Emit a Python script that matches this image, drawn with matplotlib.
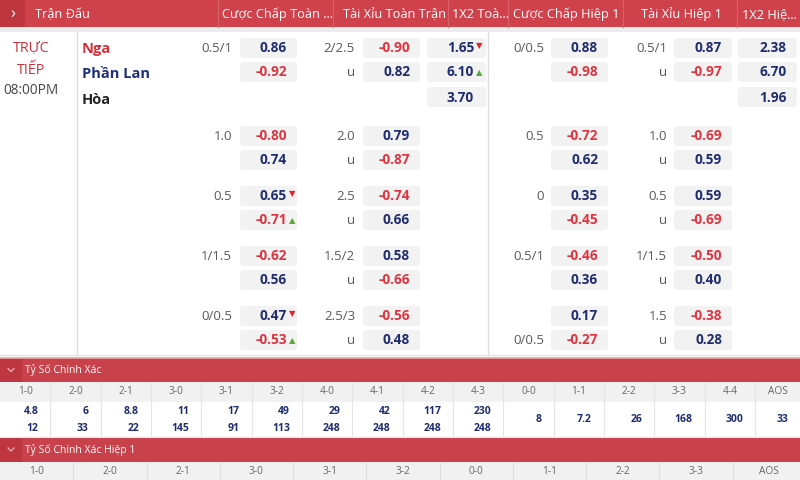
import matplotlib
matplotlib.use("Agg")
import matplotlib.pyplot as plt
from matplotlib.patches import FancyBboxPatch, Rectangle

plt.rcParams['font.family'] = ['Open Sans', 'DejaVu Sans']

# ---------------- data ----------------
header_titles = ["Trận Đấu", "Cược Chấp Toàn ...", "Tài Xỉu Toàn Trận", "1X2 Toà...",
                 "Cược Chấp Hiệp 1", "Tài Xỉu Hiệp 1", "1X2 Hiệ..."]
teams = ["Nga", "Phần Lan", "Hòa"]
status = ["TRỰC", "TIẾP", "08:00PM"]

hdp_ft_lines = ["0.5/1", "1.0", "0.5", "1/1.5", "0/0.5"]
hdp_ft_home = [0.86, -0.80, 0.65, -0.62, 0.47]
hdp_ft_away = [-0.92, 0.74, -0.71, 0.56, -0.53]

ou_ft_lines = ["2/2.5", "2.0", "2.5", "1.5/2", "2.5/3"]
ou_ft_over = [-0.90, 0.79, -0.74, 0.58, -0.56]
ou_ft_under = [0.82, -0.87, 0.66, -0.66, 0.48]

x12_ft = [1.65, 6.10, 3.70]

hdp_h1_lines = ["0/0.5", "0.5", "0", "0.5/1", "0/0.5"]
hdp_h1_line_row = [0, 0, 0, 0, 1]
hdp_h1_home = [0.88, -0.72, 0.35, -0.46, 0.17]
hdp_h1_away = [-0.98, 0.62, -0.45, 0.36, -0.27]

ou_h1_lines = ["0.5/1", "1.0", "0.5", "1/1.5", "1.5"]
ou_h1_over = [0.87, -0.69, 0.59, -0.50, -0.38]
ou_h1_under = [-0.97, 0.59, -0.69, 0.40, 0.28]

x12_h1 = [2.38, 6.70, 1.96]

# odds movement arrows: (column, group, row, direction)
arrows = [(2, 0, 0, "down"), (2, 0, 1, "up"),
          (0, 2, 0, "down"), (0, 2, 1, "up"),
          (0, 4, 0, "down"), (0, 4, 1, "up")]

cs_title = "Tỷ Số Chính Xác"
cs_labels = ["1-0", "2-0", "2-1", "3-0", "3-1", "3-2", "4-0", "4-1", "4-2", "4-3",
             "0-0", "1-1", "2-2", "3-3", "4-4", "AOS"]
cs_home = ["4.8", "6", "8.8", "11", "17", "49", "29", "42", "117", "230"]
cs_away = ["12", "33", "22", "145", "91", "113", "248", "248", "248", "248"]
cs_draw = ["8", "7.2", "26", "168", "300", "33"]

cs_h1_title = "Tỷ Số Chính Xác Hiệp 1"
cs_h1_labels = ["1-0", "2-0", "2-1", "3-0", "3-1", "3-2", "0-0", "1-1", "2-2", "3-3", "AOS"]

# ---------------- style ----------------
RED_HDR = "#cf424c"
RED_DARK = "#c0363f"
SEC_RED = "#c9414b"
VAL_RED = "#dc3540"
VAL_BLUE = "#1f2c6d"
BOX = "#f2f2f3"
GRID = "#dcdcdc"
LBL = "#5a5a5a"

fig = plt.figure(figsize=(8, 4.8), dpi=100)
ax = fig.add_axes([0, 0, 1, 1])
ax.set_xlim(0, 800)
ax.set_ylim(480, 0)
ax.axis("off")

# ---------------- header ----------------
ax.add_patch(Rectangle((0, 0), 800, 27, color=RED_HDR, lw=0))
ax.add_patch(Rectangle((0, 0), 25, 27, color=RED_DARK, lw=0))
ax.add_patch(Rectangle((0, 27), 800, 5, color="#ececec", lw=0))
ax.text(12.5, 13.5, "›", color="white", fontsize=12, ha="center", va="center")
hdr_x = [35, 222, 343, 452, 513, 641, 742]
for t, x in zip(header_titles, hdr_x):
    ax.text(x, 14.5, t, color="white", fontsize=9.2, ha="left", va="center")
for x in [218, 333, 448, 508, 623, 737]:
    ax.plot([x, x], [0, 27], color="#d8626a", lw=0.8)

# ---------------- body ----------------
ax.plot([77, 77], [32, 355], color=GRID, lw=1)
ax.plot([488, 488], [32, 355], color=GRID, lw=1)
ax.plot([0, 800], [355, 355], color="#e2e2e2", lw=1)
ax.plot([0, 800], [357.5, 357.5], color="#e8a79c", lw=1.2)

ax.text(31, 48, status[0], color="#c8323c", fontsize=10.3, ha="center", va="center")
ax.text(31, 70, status[1], color="#c8323c", fontsize=10.3, ha="center", va="center")
ax.text(31, 91, status[2], color="#444444", fontsize=9.8, ha="center", va="center")

team_colors = ["#d3303b", "#1e2f78", "#222222"]
team_y = [49, 74, 100]
for t, c, y in zip(teams, team_colors, team_y):
    ax.text(82, y, t, color=c, fontsize=10.5, fontweight="bold", ha="left", va="center")

group_rows = [[48, 72, 97], [136, 160], [196, 220], [256, 280], [316, 340]]

# column geometry: (box left, box right, value right, label right)
cols = {
    0: (240, 297, 287, 232),
    1: (363, 420, 410, 355),
    2: (427, 486, 474, None),
    3: (551, 608, 598, 544),
    4: (674, 732, 722, 667),
    5: (738, 797, 787, None),
}


def cell(col, y, val, label=None):
    bl, br, vr, lr = cols[col]
    ax.add_patch(FancyBboxPatch((bl, y - 10), br - bl, 20,
                                boxstyle="round,pad=0,rounding_size=3",
                                fc=BOX, ec="none"))
    color = VAL_RED if val < 0 else VAL_BLUE
    ax.text(vr, y + 0.5, f"{val:.2f}", color=color, fontsize=9.8, fontweight="bold",
            ha="right", va="center")
    if label is not None and lr is not None:
        ax.text(lr, y + 0.5, label, color=LBL, fontsize=9.5, ha="right", va="center")


for g in range(5):
    r = group_rows[g]
    cell(0, r[0], hdp_ft_home[g], hdp_ft_lines[g])
    cell(0, r[1], hdp_ft_away[g])
    cell(1, r[0], ou_ft_over[g], ou_ft_lines[g])
    cell(1, r[1], ou_ft_under[g], "u")
    lr_row = hdp_h1_line_row[g]
    cell(3, r[0], hdp_h1_home[g], hdp_h1_lines[g] if lr_row == 0 else None)
    cell(3, r[1], hdp_h1_away[g], hdp_h1_lines[g] if lr_row == 1 else None)
    cell(4, r[0], ou_h1_over[g], ou_h1_lines[g])
    cell(4, r[1], ou_h1_under[g], "u")

for i, v in enumerate(x12_ft):
    cell(2, group_rows[0][i], v)
for i, v in enumerate(x12_h1):
    cell(5, group_rows[0][i], v)

for col, g, row, d in arrows:
    vr = cols[col][2]
    y = group_rows[g][row]
    if d == "down":
        ax.text(vr + 1.5, y - 2, "▼", color="#e0222c", fontsize=6, ha="left", va="center",
                family="DejaVu Sans")
    else:
        ax.text(vr + 1.5, y + 1, "▲", color="#5aa83a", fontsize=6, ha="left", va="center",
                family="DejaVu Sans")


# ---------------- correct score sections ----------------
def section_bar(y0, y1, title):
    ax.add_patch(Rectangle((0, y0), 800, y1 - y0, color=SEC_RED, lw=0))
    ax.add_patch(Rectangle((0, y0), 22, y1 - y0, color="#bd3640", lw=0))
    yc = (y0 + y1) / 2
    ax.plot([8, 11, 14], [yc - 1.5, yc + 1.5, yc - 1.5], color="#f2b5ba", lw=0.9)
    ax.text(25, yc, title, color="white", fontsize=7.5, ha="left", va="center")


section_bar(358, 382, cs_title)
ax.add_patch(Rectangle((0, 382), 800, 20, color="#f1f1f1", lw=0))
edges = [i * 755 / 15 for i in range(16)] + [800]
for i, lab in enumerate(cs_labels):
    xl, xr = edges[i], edges[i + 1]
    ax.text((xl + xr) / 2, 392, lab, color="#666666", fontsize=7.3, ha="center", va="center")
    if i > 0:
        ax.plot([xl, xl], [382, 437], color="#e4e4e4", lw=0.8)
for i in range(len(cs_home)):
    xr = edges[i + 1] - 12
    ax.text(xr, 412, cs_home[i], color=VAL_BLUE, fontsize=7.5, fontweight="bold",
            ha="right", va="center")
    ax.text(xr, 428.5, cs_away[i], color=VAL_BLUE, fontsize=7.5, fontweight="bold",
            ha="right", va="center")
for j, v in enumerate(cs_draw):
    i = len(cs_home) + j
    xr = edges[i + 1] - 12
    ax.text(xr, 420, v, color=VAL_BLUE, fontsize=7.5, fontweight="bold",
            ha="right", va="center")
ax.plot([0, 800], [437, 437], color="#e4e4e4", lw=0.8)

section_bar(437, 462, cs_h1_title)
ax.add_patch(Rectangle((0, 462), 800, 18, color="#f1f1f1", lw=0))
n1 = len(cs_h1_labels)
w1 = 806 / n1
for i, lab in enumerate(cs_h1_labels):
    xl = i * w1
    ax.text(xl + w1 / 2, 471, lab, color="#666666", fontsize=7.3, ha="center", va="center")
    if i > 0:
        ax.plot([xl, xl], [462, 480], color="#dedede", lw=0.8)

fig.savefig("out.png", dpi=100)
